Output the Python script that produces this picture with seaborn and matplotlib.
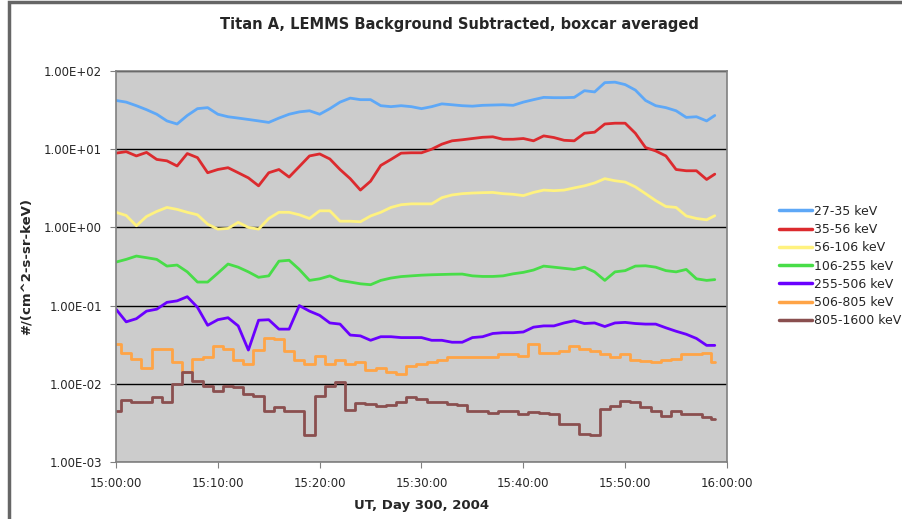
import numpy as np
import pandas as pd
import matplotlib
matplotlib.use("Agg")
import matplotlib.pyplot as plt
import matplotlib.patches as mpatches
import seaborn as sns

# minutes after 15:00:00 UT
minutes = list(range(59)) + [58.8]

ch_27_35 = [42, 40, 36, 32, 28, 23, 21, 27, 33, 34,
            28, 26, 25, 24, 23, 22, 25, 28, 30, 31,
            28, 33, 40, 45, 43, 43, 36, 35, 36, 35,
            33, 35, 38, 37, 36, 35.5, 36.4, 36.7, 37, 36.4,
            40, 43, 46, 45.6, 45.6, 46, 56, 54, 71, 72,
            67, 57, 42, 36, 34, 31, 25.5, 26, 23, 27]
ch_35_56 = [8.9, 9.3, 8.2, 9.1, 7.4, 7.1, 6.1, 8.8, 7.8, 5.0,
            5.5, 5.8, 5.0, 4.3, 3.4, 5.0, 5.5, 4.4, 6.0, 8.2,
            8.7, 7.5, 5.5, 4.2, 3.0, 3.9, 6.2, 7.4, 8.9, 9.0,
            9.0, 10, 11.6, 12.8, 13.2, 13.7, 14.2, 14.4, 13.4, 13.4,
            13.7, 12.8, 14.8, 14.1, 13, 12.8, 16, 16.5, 21, 21.5,
            21.5, 16, 10.5, 9.5, 8.2, 5.5, 5.3, 5.3, 4.1, 4.8]
ch_56_106 = [1.56, 1.42, 1.05, 1.38, 1.6, 1.8, 1.7, 1.56, 1.45, 1.1,
             0.95, 0.97, 1.16, 1.0, 0.95, 1.3, 1.56, 1.56, 1.45, 1.3,
             1.63, 1.63, 1.2, 1.2, 1.18, 1.4, 1.56, 1.8, 1.95, 2.0,
             2.0, 2.0, 2.4, 2.6, 2.7, 2.75, 2.78, 2.8, 2.7, 2.65,
             2.55, 2.8, 3.0, 2.95, 3.0, 3.2, 3.4, 3.7, 4.2, 3.95,
             3.8, 3.3, 2.7, 2.2, 1.85, 1.8, 1.4, 1.3, 1.25, 1.41]
ch_106_255 = [0.36, 0.39, 0.43, 0.41, 0.39, 0.32, 0.33, 0.27, 0.20, 0.20,
              0.26, 0.34, 0.31, 0.27, 0.23, 0.24, 0.37, 0.38, 0.29, 0.21,
              0.22, 0.24, 0.21, 0.20, 0.19, 0.185, 0.21, 0.225, 0.235, 0.24,
              0.245, 0.248, 0.25, 0.252, 0.253, 0.24, 0.236, 0.236, 0.24, 0.255,
              0.266, 0.285, 0.32, 0.31, 0.30, 0.29, 0.31, 0.27, 0.21, 0.27,
              0.28, 0.32, 0.323, 0.31, 0.28, 0.27, 0.29, 0.22, 0.21, 0.215]
ch_255_506 = [0.09, 0.062, 0.068, 0.085, 0.09, 0.11, 0.115, 0.13, 0.095, 0.056,
              0.066, 0.07, 0.055, 0.027, 0.065, 0.066, 0.05, 0.05, 0.1, 0.085,
              0.075, 0.06, 0.058, 0.042, 0.041, 0.036, 0.04, 0.04, 0.039, 0.039,
              0.039, 0.036, 0.036, 0.034, 0.034, 0.039, 0.04, 0.044, 0.045, 0.045,
              0.046, 0.053, 0.055, 0.055, 0.06, 0.064, 0.059, 0.06, 0.054, 0.06,
              0.061, 0.059, 0.058, 0.058, 0.052, 0.047, 0.043, 0.038, 0.031, 0.031]
ch_506_805 = [0.032, 0.025, 0.021, 0.016, 0.028, 0.028, 0.019, 0.014, 0.021, 0.022,
              0.03, 0.028, 0.02, 0.018, 0.027, 0.038, 0.037, 0.026, 0.02, 0.018,
              0.023, 0.018, 0.02, 0.018, 0.019, 0.015, 0.016, 0.014, 0.0135, 0.017,
              0.018, 0.019, 0.02, 0.022, 0.022, 0.022, 0.022, 0.022, 0.024, 0.024,
              0.023, 0.032, 0.025, 0.025, 0.026, 0.03, 0.028, 0.026, 0.024, 0.022,
              0.024, 0.02, 0.0197, 0.019, 0.02, 0.021, 0.024, 0.024, 0.025, 0.0188]
ch_805_1600 = [0.0045, 0.0062, 0.0058, 0.0058, 0.0067, 0.0058, 0.01, 0.014, 0.011, 0.0095,
               0.008, 0.0095, 0.009, 0.0075, 0.007, 0.0045, 0.005, 0.0045, 0.0045, 0.0022,
               0.007, 0.0095, 0.0104, 0.0046, 0.0057, 0.0055, 0.0052, 0.0053, 0.0058, 0.0067,
               0.0064, 0.0058, 0.0058, 0.0055, 0.0053, 0.0045, 0.0045, 0.0042, 0.0045, 0.0045,
               0.0041, 0.0043, 0.0042, 0.0041, 0.0031, 0.0031, 0.0023, 0.0022, 0.0047, 0.0052,
               0.006, 0.0058, 0.005, 0.0045, 0.0039, 0.0045, 0.0041, 0.0041, 0.0038, 0.0035]

labels = ["27-35 keV", "35-56 keV", "56-106 keV", "106-255 keV",
          "255-506 keV", "506-805 keV", "805-1600 keV"]
series = [ch_27_35, ch_35_56, ch_56_106, ch_106_255, ch_255_506, ch_506_805, ch_805_1600]
colors = ["#5ea8f7", "#dc2a2e", "#fff27f", "#48dd48", "#6a00ff", "#ffa446", "#8a4f4f"]

x_ticks = [0, 10, 20, 30, 40, 50, 60]
x_labels = ["15:00:00", "15:10:00", "15:20:00", "15:30:00", "15:40:00", "15:50:00", "16:00:00"]
y_ticks = [1e-3, 1e-2, 1e-1, 1e0, 1e1, 1e2]
y_labels = ["1.00E-03", "1.00E-02", "1.00E-01", "1.00E+00", "1.00E+01", "1.00E+02"]

df = pd.concat([pd.DataFrame({"t": minutes, "flux": s, "band": lab})
                for s, lab in zip(series, labels)], ignore_index=True)

sns.set_style("white")
plt.rcParams["font.family"] = ["DejaVu Sans"]

fig = plt.figure(figsize=(9.02, 5.19), dpi=100)
ax = fig.add_axes([116 / 902, 1 - 462 / 519, (727 - 116) / 902, (462 - 71) / 519])

sns.lineplot(data=df, x="t", y="flux", hue="band", hue_order=labels,
             palette=colors, estimator=None, sort=False, linewidth=2.0, ax=ax)

# the two highest-energy channels look stepped in the original
for line in ax.lines[5:7]:
    line.set_drawstyle("steps-mid")

ax.set_yscale("log")
ax.set_ylim(1e-3, 1e2)
ax.set_xlim(0, 60)
ax.set_facecolor("#cccccc")
ax.set_yticks(y_ticks)
ax.set_yticklabels(y_labels)
ax.yaxis.set_minor_locator(matplotlib.ticker.NullLocator())
ax.set_xticks(x_ticks)
ax.set_xticklabels(x_labels)
ax.tick_params(axis="both", direction="out", length=4, width=0.8, color="#808080",
               labelsize=8.5, left=True, bottom=True)
ax.tick_params(axis="y", pad=6)
ax.tick_params(axis="x", pad=7)
ax.grid(axis="y", color="black", linewidth=1.0)
ax.grid(axis="x", visible=False)
ax.set_axisbelow(True)
for side in ["left", "bottom", "right", "top"]:
    ax.spines[side].set_color("#808080")
    ax.spines[side].set_linewidth(1.2)

ax.set_xlabel("UT, Day 300, 2004", fontsize=9.5, fontweight="bold", labelpad=6)
ax.set_ylabel("#/(cm^2-s-sr-keV)", fontsize=9.5, fontweight="bold")
ax.yaxis.set_label_coords((33 - 116) / 611, 0.5)

fig.text(459 / 902, 1 - 25 / 519, "Titan A, LEMMS Background Subtracted, boxcar averaged",
         ha="center", va="center", fontsize=10.5, fontweight="bold")

handles, lab = ax.get_legend_handles_labels()
leg = ax.legend(handles, lab, loc="center left", bbox_to_anchor=(768 / 902, 1 - 266 / 519),
                bbox_transform=fig.transFigure, frameon=False, fontsize=9,
                handlelength=2.6, handletextpad=0.2, labelspacing=0.42)
for h in leg.get_lines():
    h.set_linewidth(2.5)

# chart-area border (top and left visible)
fig.patches.append(mpatches.Rectangle((9 / 902, -0.1), 1.2, 1.1 - 2 / 519,
                                      transform=fig.transFigure, fill=False,
                                      edgecolor="#666666", linewidth=2.5, clip_on=False))

fig.savefig("out.png", dpi=100)
